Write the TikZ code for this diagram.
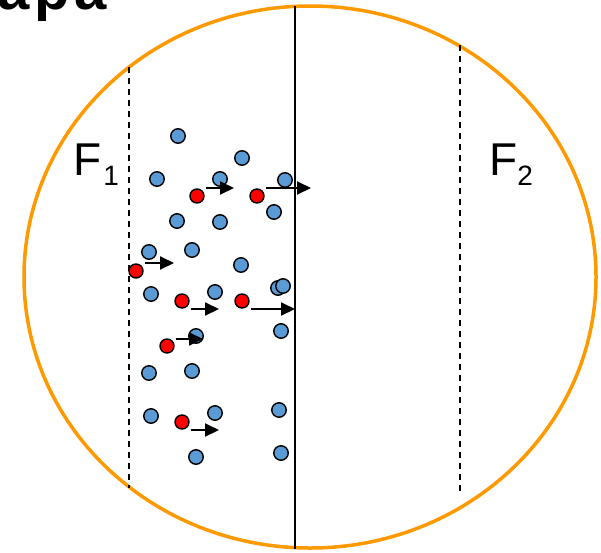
\documentclass[tikz,border=0pt]{standalone}
\usepackage{fontspec}
\setmainfont{Liberation Sans}
\usetikzlibrary{arrows.meta}
\definecolor{ring}{RGB}{255,153,0}
\definecolor{pblue}{RGB}{91,155,213}
\definecolor{pred}{RGB}{255,0,0}
\tikzset{
  bdot/.style={circle,draw=black,line width=1.4pt,fill=pblue,minimum size=14.5pt,inner sep=0pt},
  rdot/.style={circle,draw=black,line width=1.4pt,fill=pred,minimum size=14pt,inner sep=0pt},
  arr/.style={line width=2pt,-{Triangle[length=14pt,width=13pt]}},
  dashline/.style={line width=1.3pt,dash pattern=on 6pt off 5pt},
  lab/.style={anchor=base west,inner sep=0pt}
}
\begin{document}
\begin{tikzpicture}[x=1pt,y=-1pt]
\useasboundingbox (0,0) rectangle (601,552);
% cut-off heading (only its lower edge lies inside the picture)
\node[lab] (head) at (-3,9) {\fontsize{58}{58}\selectfont\bfseries а\kern5pt р\kern5pt а};
% vessel
\draw[ring,line width=3.5pt] (310,277) ellipse [x radius=286, y radius=271];
% membrane and boundaries
\coordinate (mt) at (295,6);
\coordinate (mb) at (295,549);
\draw[line width=1.4pt] (mt) -- (mb);
\coordinate (l1t) at (129,67);
\coordinate (l1b) at (129,488);
\draw[dashline] (l1t) -- (l1b);
\coordinate (l2t) at (460,45);
\coordinate (l2b) at (460,495);
\draw[dashline] (l2t) -- (l2b);
% labels
\node[lab] (f1) at (73,175) {\fontsize{46}{46}\selectfont F\kern2pt\raisebox{-10pt}{\fontsize{28}{28}\selectfont 1}};
\node[lab] (f2) at (489,175) {\fontsize{46}{46}\selectfont F\raisebox{-10pt}{\fontsize{28}{28}\selectfont 2}};
% blue particles
\foreach \x/\y [count=\i] in {178/136,242/158,157/179,220/179,285/180,274/212,177/221,220/222,149/252,192/250,241/265,151/294,215/292,278/288,283/286,281/331,196/336,149/373,192/371,151/416,215/413,279/410,196/457,281/453}
  \node[bdot] (b\i) at (\x,\y) {};
% red particles
\node[rdot] (r1) at (197,196) {};
\node[rdot] (r2) at (257,196) {};
\node[rdot] (r3) at (136,271) {};
\node[rdot] (r4) at (182,301) {};
\node[rdot] (r5) at (242,301) {};
\node[rdot] (r6) at (167,346) {};
\node[rdot] (r7) at (182,422) {};
% velocity arrows
\coordinate (a1) at (234,188);
\coordinate (a2) at (311,188);
\coordinate (a3) at (174,263);
\coordinate (a4) at (219,309);
\coordinate (a5) at (295,309);
\coordinate (a6) at (203,339);
\coordinate (a7) at (219,430);
\draw[arr] (r1.east |- a1) ++(1,0) -- (a1);
\draw[arr] (r2.east |- a2) ++(1,0) -- (a2);
\draw[arr] (r3.east |- a3) ++(1,0) -- (a3);
\draw[arr] (r4.east |- a4) ++(1,0) -- (a4);
\draw[arr] (r5.east |- a5) ++(1,0) -- (a5);
\draw[arr] (r6.east |- a6) ++(1,0) -- (a6);
\draw[arr] (r7.east |- a7) ++(1,0) -- (a7);
\end{tikzpicture}
\end{document}
